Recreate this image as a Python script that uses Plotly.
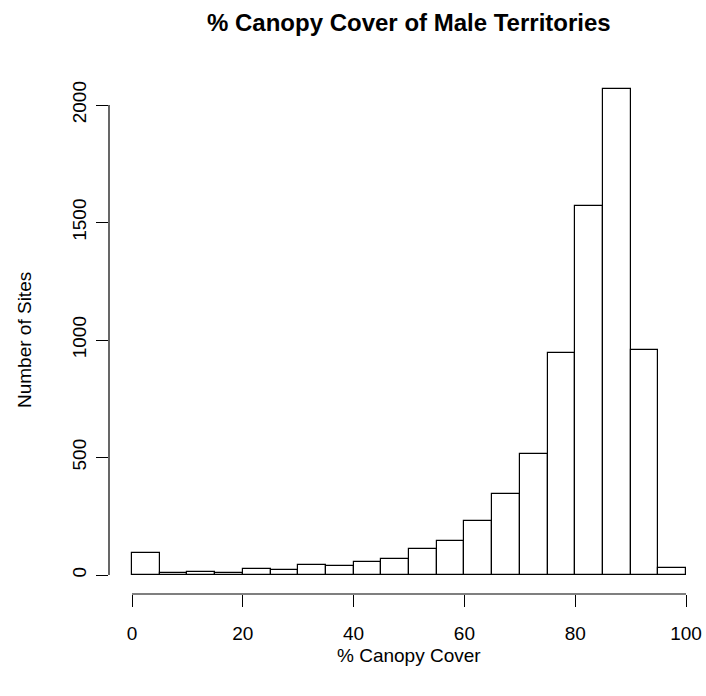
import plotly.graph_objects as go

# Histogram bins (left edges, width 5) and counts
bin_left = [0, 5, 10, 15, 20, 25, 30, 35, 40, 45, 50, 55, 60, 65, 70, 75, 80, 85, 90, 95]
bin_width = 5
counts = [95, 10, 14, 9, 27, 23, 44, 37, 55, 69, 112, 143, 231, 346, 515, 943, 1569, 2067, 957, 28]
x_ticks = [0, 20, 40, 60, 80, 100]
y_ticks = [0, 500, 1000, 1500, 2000]

title_text = "% Canopy Cover of Male Territories"
x_title = "% Canopy Cover"
y_title = "Number of Sites"

FONT = "Liberation Sans, Arial, Helvetica, sans-serif"

W, H = 706, 696
L, R, T, B = 109, 0, 70, 102
pw, ph = W - L - R, H - T - B

# pixel mapping from reference
px_per_x = (686 - 132) / 100.0
x0 = (L - 132) / px_per_x
x1 = (W - R - 132) / px_per_x
px_per_y = (575 - 105) / 2000.0
y0 = (575 - (H - B)) / px_per_y
y1 = (575 - T) / px_per_y

centers = [b + bin_width / 2 for b in bin_left]

fig = go.Figure()
fig.add_trace(go.Bar(
    x=centers, y=counts, width=[bin_width] * len(counts),
    marker=dict(color="white", line=dict(color="black", width=1.2)),
    hoverinfo="x+y", showlegend=False,
))

fig.update_layout(
    width=W, height=H,
    margin=dict(l=L, r=R, t=T, b=B, pad=0),
    paper_bgcolor="white", plot_bgcolor="white",
    font=dict(family=FONT, size=19, color="black"),
    bargap=0,
    xaxis=dict(range=[x0, x1], tickvals=x_ticks, ticktext=[str(v) for v in x_ticks],
               ticks="outside", ticklen=12, tickwidth=1.2, tickcolor="black",
               showgrid=False, zeroline=False, showline=False,
               tickfont=dict(size=19), ticklabelstandoff=10),
    yaxis=dict(range=[y0, y1], tickvals=y_ticks, ticktext=[str(v) for v in y_ticks],
               ticks="outside", ticklen=12, tickwidth=1.2, tickcolor="black",
               showgrid=False, zeroline=False, showline=False, tickangle=-90,
               tickfont=dict(size=19), ticklabelstandoff=2),
    shapes=[
        dict(type="line", xref="x", yref="paper", x0=x_ticks[0], x1=x_ticks[-1], y0=0, y1=0,
             line=dict(color="black", width=1.2)),
        dict(type="line", xref="paper", yref="y", x0=0, x1=0, y0=y_ticks[0], y1=y_ticks[-1],
             line=dict(color="black", width=1.2)),
    ],
    annotations=[
        dict(text="<b>" + title_text + "</b>", xref="paper", yref="paper",
             x=(409 - L) / pw, y=(H - B - 22) / ph, xanchor="center", yanchor="middle",
             showarrow=False, font=dict(size=24, family=FONT)),
        dict(text=x_title, xref="paper", yref="paper",
             x=(409 - L) / pw, y=(H - B - 655) / ph, xanchor="center", yanchor="middle",
             showarrow=False, font=dict(size=19, family=FONT)),
        dict(text=y_title, xref="paper", yref="paper", textangle=-90,
             x=(24 - L) / pw, y=(H - B - 340) / ph, xanchor="center", yanchor="middle",
             showarrow=False, font=dict(size=19, family=FONT)),
    ],
)

fig.write_html("out.html")
